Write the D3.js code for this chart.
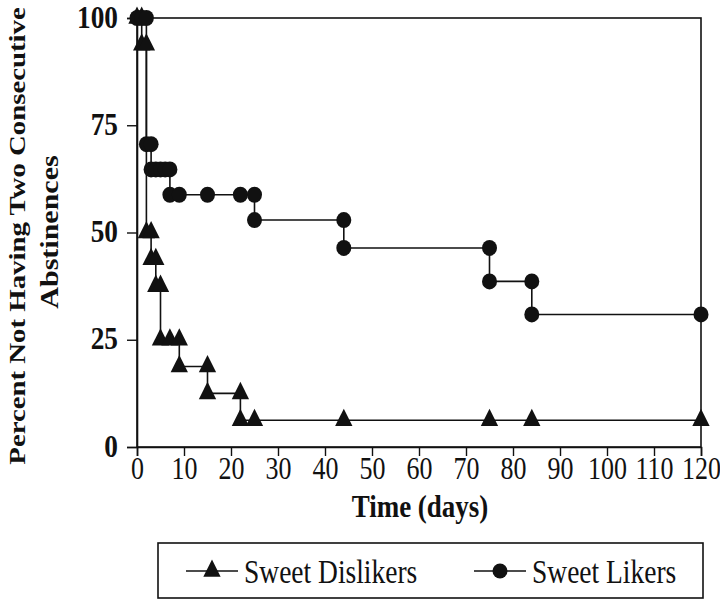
<!DOCTYPE html>
<html><head><meta charset="utf-8">
<script src="https://cdn.jsdelivr.net/npm/d3@7"></script>
<style>body{margin:0;background:#fff}svg{display:block}</style>
</head><body>
<svg id="c" width="720" height="600"></svg>
<script>
const xTicks = [0,10,20,30,40,50,60,70,80,90,100,110,120];
const yTicks = [0,25,50,75,100];
const likersDays = [0,1,2,2,3,3,4,5,6,7,7,9,15,22,25,25,44,44,75,75,84,84,120];
const likersPct  = [100,100,100,70.6,70.6,64.7,64.7,64.7,64.7,64.7,58.8,58.8,58.8,58.8,58.8,52.9,52.9,46.4,46.4,38.6,38.6,30.9,30.9];
const dislikersDays = [0,1,1,2,2,3,3,4,4,5,5,7,9,9,15,15,22,22,25,44,75,84,120];
const dislikersPct  = [100,100,93.75,93.75,50,50,43.75,43.75,37.5,37.5,25,25,25,18.75,18.75,12.5,12.5,6.25,6.25,6.25,6.25,6.25,6.25];
const seriesNames = ["Sweet Dislikers","Sweet Likers"];
const xTitle = "Time (days)";
const yTitle = ["Percent Not Having Two Consecutive","Abstinences"];

const svg = d3.select("#c");
const FONT = "'Liberation Serif','Times New Roman',serif";
const SY = 1.2; // vertical stretch of the original figure's text
const L = 137, R = 701, T = 18, B = 447;
const x = d3.scaleLinear().domain([0,120]).range([L,R]);
const y = d3.scaleLinear().domain([0,100]).range([B,T]);

// frame
svg.append("rect").attr("x",L).attr("y",T).attr("width",R-L).attr("height",B-T)
  .attr("fill","none").attr("stroke","#111").attr("stroke-width",1.6);

// axes
const xa = svg.append("g").attr("transform",`translate(0,${B})`)
  .call(d3.axisBottom(x).tickValues(xTicks).tickSize(9).tickPadding(0).tickFormat(d3.format("d")));
const ya = svg.append("g").attr("transform",`translate(${L},0)`)
  .call(d3.axisLeft(y).tickValues(yTicks).tickSize(10).tickPadding(0).tickFormat(d3.format("d")));
[xa,ya].forEach(g=>{
  g.select(".domain").attr("stroke","#111").attr("stroke-width",1.6);
  g.selectAll(".tick line").attr("stroke","#111").attr("stroke-width",1.4);
});
xa.selectAll(".tick text").attr("y",null).attr("dy",null)
  .attr("font-family",FONT).attr("font-size",26).attr("fill","#111")
  .attr("text-anchor","middle")
  .attr("transform",`translate(0,32) scale(1,${SY})`);
ya.selectAll(".tick text").attr("x",null).attr("dy",null)
  .attr("font-family",FONT).attr("font-size",26).attr("font-weight","bold").attr("fill","#111")
  .attr("text-anchor","end")
  .attr("transform",`translate(-19,9) scale(1.05,${SY})`);

// titles
svg.append("text").attr("transform",`translate(420,517) scale(1,${SY})`)
  .attr("text-anchor","middle").attr("font-family",FONT).attr("font-weight","bold")
  .attr("font-size",27).attr("fill","#111").text(xTitle);
[[25,236,24,yTitle[0]],[58,232,25,yTitle[1]]].forEach(([bx,cy,fs,t])=>{
  svg.append("text").attr("transform",`translate(${bx},${cy}) rotate(-90) scale(${SY},1)`)
    .attr("text-anchor","middle").attr("font-family",FONT).attr("font-weight","bold")
    .attr("font-size",fs).attr("fill","#111").text(t);
});

// series
const line = d3.line().x(d=>x(d[0])).y(d=>y(d[1]));
const tri = d3.symbol().type(d3.symbolTriangle).size(130);
const dis = dislikersDays.map((d,i)=>[d,dislikersPct[i]]);
const lik = likersDays.map((d,i)=>[d,likersPct[i]]);
const plot = svg.append("g");
plot.append("path").datum(dis).attr("d",line).attr("fill","none").attr("stroke","#111").attr("stroke-width",1.6);
plot.append("path").datum(lik).attr("d",line).attr("fill","none").attr("stroke","#111").attr("stroke-width",1.6);
plot.selectAll(".tri").data(dis).join("path").attr("class","tri")
  .attr("d",tri).attr("fill","#111")
  .attr("transform",d=>`translate(${x(d[0])},${y(d[1])}) scale(1,1.15)`);
plot.selectAll(".dot").data(lik).join("ellipse").attr("class","dot")
  .attr("cx",d=>x(d[0])).attr("cy",d=>y(d[1])).attr("rx",7.5).attr("ry",8).attr("fill","#111");

// legend
const lg = svg.append("g");
lg.append("rect").attr("x",158).attr("y",543).attr("width",545).attr("height",55)
  .attr("fill","none").attr("stroke","#111").attr("stroke-width",1.6);
const items = [{x:186, sym:"tri"},{x:474, sym:"dot"}];
items.forEach((it,i)=>{
  lg.append("line").attr("x1",it.x).attr("x2",it.x+52).attr("y1",571).attr("y2",571)
    .attr("stroke","#111").attr("stroke-width",1.6);
  if(it.sym==="tri") lg.append("path").attr("d",tri).attr("fill","#111").attr("transform",`translate(${it.x+26},571) scale(1,1.15)`);
  else lg.append("circle").attr("cx",it.x+26).attr("cy",571).attr("r",7.5).attr("fill","#111");
  lg.append("text").attr("transform",`translate(${it.x+58},583) scale(1,${SY})`)
    .attr("font-family",FONT).attr("font-size",27.5).attr("fill","#111").text(seriesNames[i]);
});
</script>
</body></html>
